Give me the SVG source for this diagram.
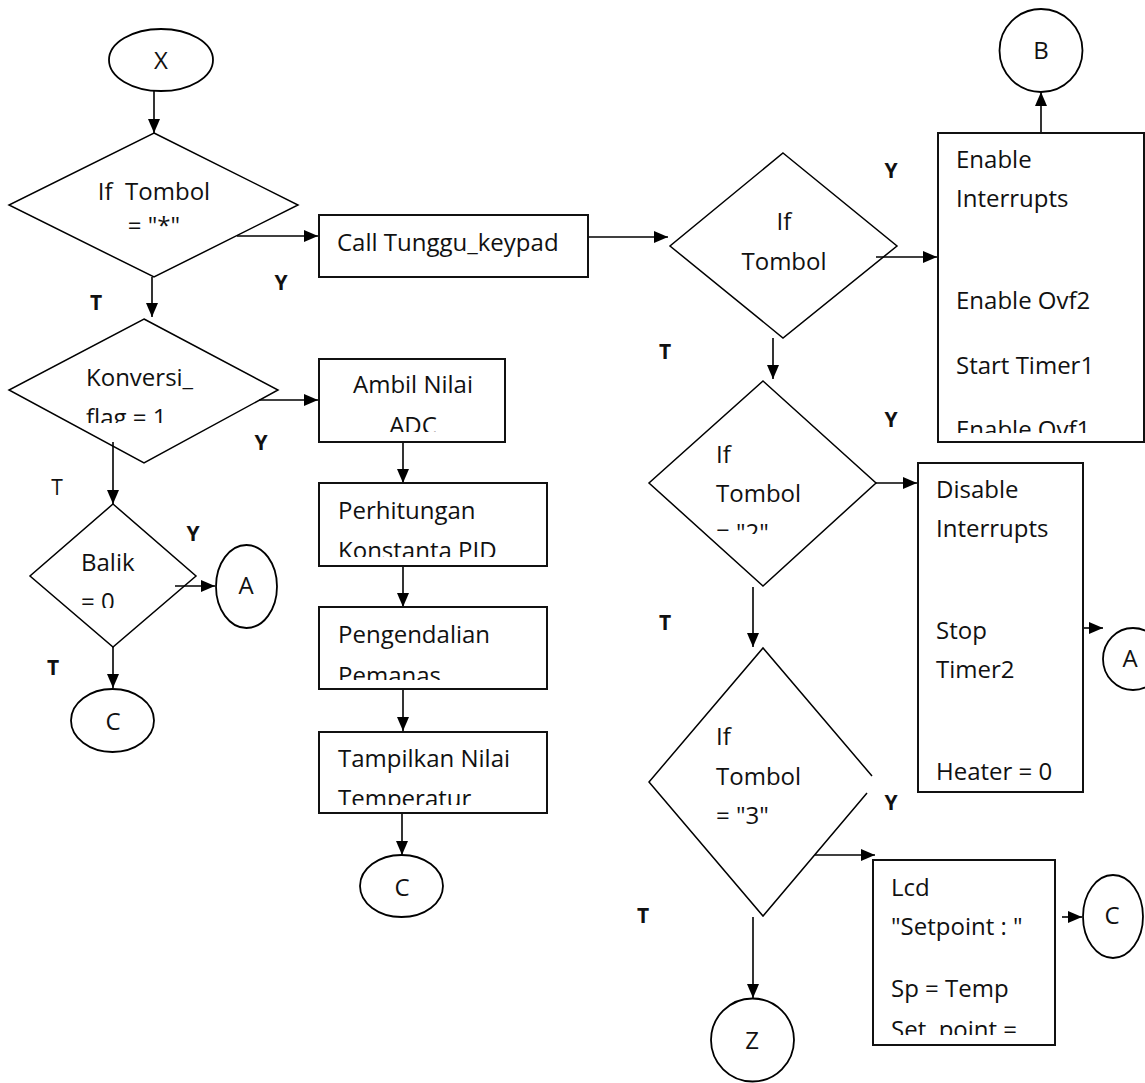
<svg xmlns="http://www.w3.org/2000/svg" width="1145" height="1083" viewBox="0 0 1145 1083">
<style>
.t{font-family:"Open Sans","Liberation Sans",sans-serif;font-size:24px;fill:#111}
.c{text-anchor:middle}
.lb{font-family:"Open Sans","Liberation Sans",sans-serif;font-size:21px;font-weight:bold;fill:#111;text-anchor:middle}
.lr{font-family:"Open Sans","Liberation Sans",sans-serif;font-size:21px;fill:#111;text-anchor:middle}
.d{fill:none;stroke:#000;stroke-width:1.5}
.b{fill:none;stroke:#111;stroke-width:2}
.e{fill:none;stroke:#000;stroke-width:1.8}
.k{fill:none;stroke:#000;stroke-width:1.6;marker-end:url(#ah)}
</style>
<defs>
<marker id="ah" markerWidth="14" markerHeight="12" refX="14" refY="6" orient="auto" markerUnits="userSpaceOnUse"><path d="M0,0 L14,6 L0,12 z" fill="#000"/></marker>
<clipPath id="c1"><rect x="0" y="300" width="400" height="123"/></clipPath>
<clipPath id="c2"><rect x="0" y="560" width="400" height="48"/></clipPath>
<clipPath id="c3"><rect x="300" y="400" width="260" height="32"/></clipPath>
<clipPath id="c4"><rect x="300" y="530" width="260" height="27"/></clipPath>
<clipPath id="c5"><rect x="300" y="650" width="260" height="30"/></clipPath>
<clipPath id="c6"><rect x="300" y="770" width="260" height="35"/></clipPath>
<clipPath id="c7"><rect x="640" y="510" width="250" height="24"/></clipPath>
<clipPath id="c8"><rect x="940" y="400" width="200" height="33"/></clipPath>
<clipPath id="c9"><rect x="875" y="1000" width="180" height="35"/></clipPath>
</defs>
<rect width="1145" height="1083" fill="#fff"/>

<g id="connectors">
<line class="k" x1="154" y1="91" x2="154" y2="133"/>
<line class="k" x1="237" y1="236" x2="318" y2="236"/>
<line class="k" x1="152" y1="277" x2="152" y2="317"/>
<line class="k" x1="588" y1="237" x2="668" y2="237"/>
<line class="k" x1="259" y1="400" x2="318" y2="400"/>
<line class="k" x1="113" y1="442" x2="113" y2="504"/>
<line class="k" x1="175" y1="586" x2="215" y2="586"/>
<line class="k" x1="113" y1="647" x2="113" y2="688"/>
<line class="k" x1="403" y1="442" x2="403" y2="483"/>
<line class="k" x1="403" y1="566" x2="403" y2="607"/>
<line class="k" x1="403" y1="689" x2="403" y2="731"/>
<line class="k" x1="402" y1="813" x2="402" y2="855"/>
<line class="k" x1="876" y1="257" x2="937" y2="257"/>
<line class="k" x1="1041" y1="133" x2="1041" y2="92"/>
<line class="k" x1="773" y1="338" x2="773" y2="379"/>
<line class="k" x1="876" y1="483" x2="917" y2="483"/>
<line class="k" x1="1083" y1="628" x2="1103" y2="628"/>
<line class="k" x1="753" y1="587" x2="753" y2="647"/>
<line class="k" x1="815" y1="855" x2="875" y2="855"/>
<line class="k" x1="1062" y1="917" x2="1082" y2="917"/>
<line class="k" x1="753" y1="917" x2="753" y2="998"/>
<text class="lb" x="281" y="290">Y</text>
<text class="lb" x="96" y="310">T</text>
<text class="lb" x="261" y="450">Y</text>
<text class="lr" x="57" y="495">T</text>
<text class="lb" x="193" y="541">Y</text>
<text class="lb" x="53" y="675">T</text>
<text class="lb" x="891" y="178">Y</text>
<text class="lb" x="665" y="359">T</text>
<text class="lb" x="891" y="427">Y</text>
<text class="lb" x="665" y="630">T</text>
<text class="lb" x="891" y="810">Y</text>
<text class="lb" x="643" y="923">T</text>
</g>

<g id="nX"><ellipse class="e" cx="161" cy="60" rx="52" ry="31"/><text class="t c" x="161" y="69">X</text></g>

<g id="d1"><polygon class="d" points="154,133 298,205 154,277 9,205"/>
<text class="t c" x="154" y="200" xml:space="preserve">If  Tombol</text>
<text class="t c" x="154" y="234">= "*"</text></g>

<g id="callBox"><rect class="b" x="319" y="215" width="269" height="62"/><text class="t" x="337" y="251">Call Tunggu_keypad</text></g>

<g id="d2"><polygon class="d" points="144,319 278,390 144,463 9,390"/>
<text class="t" x="86" y="386">Konversi_</text>
<text class="t" x="86" y="426" clip-path="url(#c1)">flag = 1</text></g>

<g id="dBalik"><polygon class="d" points="113,504 196,576 113,647 30,576"/>
<text class="t" x="81" y="571">Balik</text>
<text class="t" x="81" y="610" clip-path="url(#c2)">= 0</text></g>

<g id="nA1"><ellipse class="e" cx="246.5" cy="586.5" rx="30.5" ry="41.5"/><text class="t c" x="246" y="594">A</text></g>
<g id="nC1"><ellipse class="e" cx="112.5" cy="720.5" rx="41.5" ry="31.5"/><text class="t c" x="113" y="730">C</text></g>

<g id="ambil"><rect class="b" x="319" y="359" width="186" height="83"/>
<text class="t c" x="413" y="393">Ambil Nilai</text>
<text class="t c" x="413" y="434" clip-path="url(#c3)">ADC</text></g>

<g id="perhitungan"><rect class="b" x="319" y="483" width="228" height="83"/>
<text class="t" x="338" y="519">Perhitungan</text>
<text class="t" x="338" y="559" clip-path="url(#c4)">Konstanta PID</text></g>

<g id="pengendalian"><rect class="b" x="319" y="607" width="228" height="82"/>
<text class="t" x="338" y="643">Pengendalian</text>
<text class="t" x="338" y="684" clip-path="url(#c5)">Pemanas</text></g>

<g id="tampilkan"><rect class="b" x="319" y="732" width="228" height="81"/>
<text class="t" x="338" y="767">Tampilkan Nilai</text>
<text class="t" x="338" y="807" clip-path="url(#c6)">Temperatur</text></g>

<g id="nC2"><ellipse class="e" cx="401.5" cy="886" rx="41.5" ry="31"/><text class="t c" x="402" y="896">C</text></g>

<g id="d3"><polygon class="d" points="783,153 897,246 783,338 670,246"/>
<text class="t c" x="784" y="230">If</text>
<text class="t c" x="784" y="270">Tombol</text></g>

<g id="enableBox"><rect class="b" x="938" y="133" width="206" height="309"/>
<text class="t" x="956" y="168">Enable</text>
<text class="t" x="956" y="207">Interrupts</text>
<text class="t" x="956" y="309">Enable Ovf2</text>
<text class="t" x="956" y="374">Start Timer1</text>
<text class="t" x="956" y="438" clip-path="url(#c8)">Enable Ovf1</text></g>

<g id="nB"><circle class="e" cx="1041" cy="50.5" r="41.5"/><text class="t c" x="1041" y="59">B</text></g>

<g id="d4"><polygon class="d" points="763,381 876,483 763,586 649,483"/>
<text class="t" x="716" y="463">If</text>
<text class="t" x="716" y="502">Tombol</text>
<text class="t" x="716" y="541" clip-path="url(#c7)">= "2"</text></g>

<g id="disableBox"><rect class="b" x="918" y="463" width="165" height="329"/>
<text class="t" x="936" y="498">Disable</text>
<text class="t" x="936" y="537">Interrupts</text>
<text class="t" x="936" y="639">Stop</text>
<text class="t" x="936" y="678">Timer2</text>
<text class="t" x="936" y="780">Heater = 0</text></g>

<g id="nA2"><ellipse class="e" cx="1133" cy="659" rx="30" ry="31"/><text class="t c" x="1130" y="667">A</text></g>

<g id="d5"><polyline class="d" points="872,776 763,648 649,782 763,916 867,793"/>
<text class="t" x="716" y="745">If</text>
<text class="t" x="716" y="785">Tombol</text>
<text class="t" x="716" y="824">= "3"</text></g>

<g id="lcdBox"><rect class="b" x="873" y="860" width="182" height="185"/>
<text class="t" x="891" y="896">Lcd</text>
<text class="t" x="891" y="935">"Setpoint : "</text>
<text class="t" x="891" y="997">Sp = Temp</text>
<text class="t" x="891" y="1038" clip-path="url(#c9)" xml:space="preserve">Set  point =</text></g>

<g id="nC3"><ellipse class="e" cx="1113" cy="916.5" rx="30" ry="41.5"/><text class="t c" x="1112" y="924">C</text></g>
<g id="nZ"><circle class="e" cx="752.5" cy="1040" r="41.5"/><text class="t c" x="752" y="1049">Z</text></g>
</svg>
